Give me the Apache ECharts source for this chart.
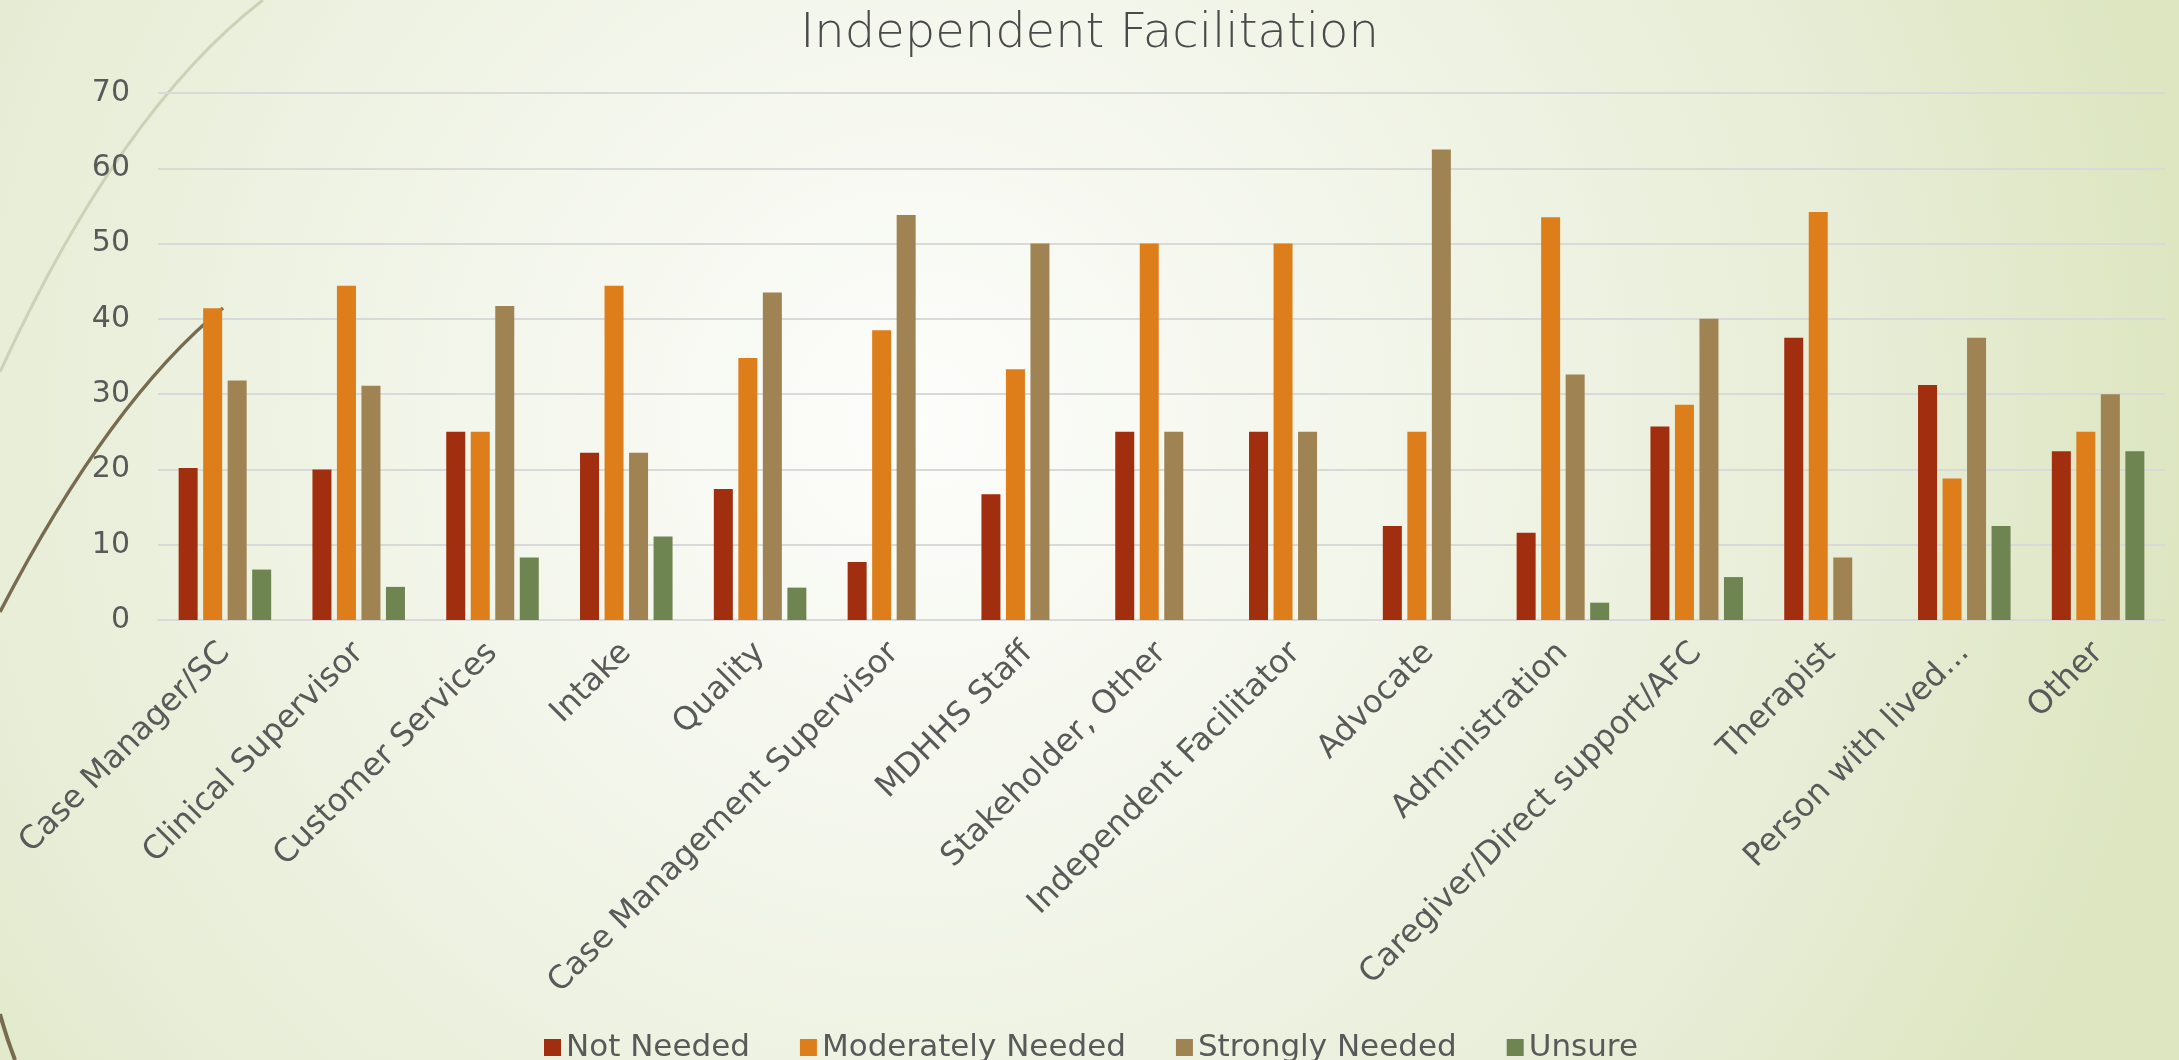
<!DOCTYPE html>
<html>
<head>
<meta charset="utf-8">
<title>Independent Facilitation</title>
<script src="https://cdn.jsdelivr.net/npm/echarts@6/dist/echarts.min.js"></script>
<style>
  html, body { margin: 0; padding: 0; }
  #chart { width: 2179px; height: 1060px; }
</style>
</head>
<body>
<div id="chart"></div>
<script>
const categories = [
  "Case Manager/SC", "Clinical Supervisor", "Customer Services", "Intake", "Quality",
  "Case Management Supervisor", "MDHHS Staff", "Stakeholder, Other", "Independent Facilitator",
  "Advocate", "Administration", "Caregiver/Direct support/AFC", "Therapist",
  "Person with lived...", "Other"
];
const notNeeded = [20.2, 20.0, 25.0, 22.2, 17.4, 7.7, 16.7, 25.0, 25.0, 12.5, 11.6, 25.7, 37.5, 31.2, 22.4];
const moderatelyNeeded = [41.4, 44.4, 25.0, 44.4, 34.8, 38.5, 33.3, 50.0, 50.0, 25.0, 53.5, 28.6, 54.2, 18.8, 25.0];
const stronglyNeeded = [31.8, 31.1, 41.7, 22.2, 43.5, 53.8, 50.0, 25.0, 25.0, 62.5, 32.6, 40.0, 8.3, 37.5, 30.0];
const unsure = [6.7, 4.4, 8.3, 11.1, 4.3, 0, 0, 0, 0, 0, 2.3, 5.7, 0, 12.5, 22.4];
const yTicks = [0, 10, 20, 30, 40, 50, 60, 70];

const font = "'DejaVu Sans', sans-serif";
const textColor = "#595959";

const chart = echarts.init(document.getElementById("chart"));

const bar = (name, data, color) => ({
  name,
  type: "bar",
  data,
  barWidth: 19,
  barGap: "29%",
  z: 3,
  itemStyle: { color }
});

chart.setOption({
  animation: false,
  backgroundColor: {
    type: "radial",
    x: 0.42,
    y: 0.4,
    r: 1.2,
    colorStops: [
      { offset: 0, color: "#fdfdfb" },
      { offset: 0.35, color: "#f3f6eb" },
      { offset: 0.75, color: "#e7edd6" },
      { offset: 1, color: "#dde6c1" }
    ]
  },
  title: {
    text: "Independent Facilitation",
    left: "center",
    top: 6,
    textStyle: { fontFamily: font, fontSize: 48, fontWeight: 200, color: "#4a4a4a" }
  },
  legend: {
    left: 539,
    top: 1027,
    icon: "rect",
    itemWidth: 17,
    itemHeight: 17,
    itemGap: 50,
    textStyle: { fontFamily: font, fontSize: 31, color: textColor }
  },
  grid: { left: 158, right: 14, top: 93, bottom: 440 },
  xAxis: {
    type: "category",
    data: categories,
    axisTick: { show: false },
    axisLine: { lineStyle: { color: "#d9d9d9", width: 2 } },
    axisLabel: {
      interval: 0,
      rotate: 45,
      margin: 28,
      fontFamily: font,
      fontSize: 32,
      color: textColor
    }
  },
  yAxis: {
    type: "value",
    min: yTicks[0],
    max: yTicks[yTicks.length - 1],
    interval: 10,
    axisLine: { show: false },
    axisTick: { show: false },
    axisLabel: { margin: 28, fontFamily: font, fontSize: 30, color: textColor },
    splitLine: { lineStyle: { color: "#d9d9d9", width: 2 } }
  },
  graphic: [
    {
      type: "bezierCurve",
      silent: true,
      z: 0,
      shape: { x1: 263, y1: 0, x2: 0, y2: 372, cpx1: 120, cpy1: 110 },
      style: { stroke: "#cdd1b6", lineWidth: 3, fill: null }
    },
    {
      type: "bezierCurve",
      silent: true,
      z: 0,
      shape: { x1: 223, y1: 308, x2: 0, y2: 612, cpx1: 110, cpy1: 400 },
      style: { stroke: "#786c50", lineWidth: 3.5, fill: null }
    },
    {
      type: "bezierCurve",
      silent: true,
      z: 0,
      shape: { x1: 0, y1: 1014, x2: 15, y2: 1060, cpx1: 6, cpy1: 1036 },
      style: { stroke: "#786c50", lineWidth: 4, fill: null }
    }
  ],
  series: [
    bar("Not Needed", notNeeded, "#a22e10"),
    bar("Moderately Needed", moderatelyNeeded, "#de7e1b"),
    bar("Strongly Needed", stronglyNeeded, "#9f8352"),
    bar("Unsure", unsure, "#6e8552")
  ]
});
</script>
</body>
</html>
